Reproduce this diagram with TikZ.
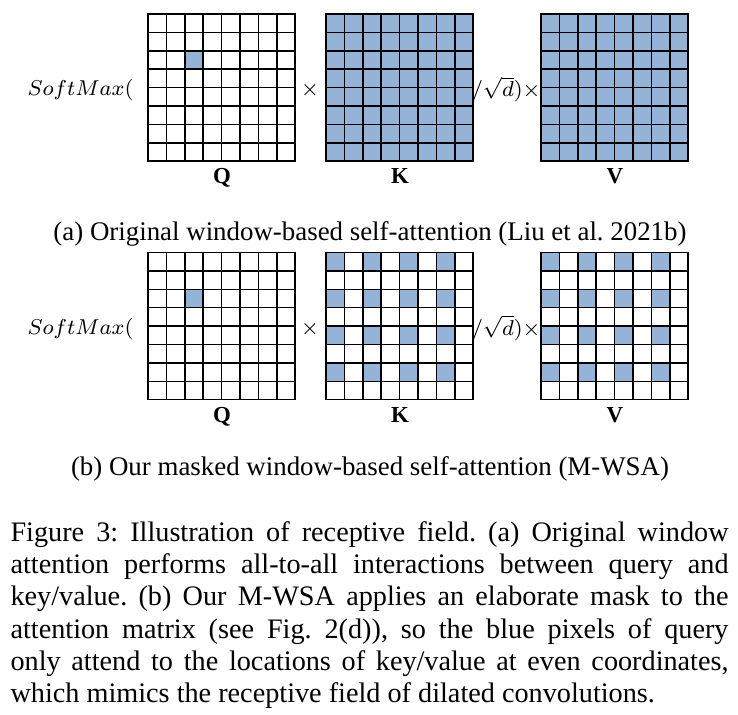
\documentclass[tikz,border=0pt]{standalone}
\usepackage{fontspec}
\setmainfont{Liberation Serif}
\usetikzlibrary{positioning}
\definecolor{cellblue}{RGB}{149,179,215}
\frenchspacing

\tikzset{
  gridline/.style={line width=0.55pt,black,line cap=rect},
  bluecell/.style={fill=cellblue},
  matlabel/.style={font=\fontsize{8.5}{10}\selectfont\bfseries,anchor=base},
  optext/.style={font=\fontsize{8}{10}\selectfont,anchor=base},
  subcap/.style={font=\fontsize{10}{12}\selectfont,anchor=base},
}

% 8x8 grid of lines, origin = top left corner (px)
\newcommand{\cellgrid}[2]{%
  \foreach \k in {0,...,8}{
    \draw[gridline] ({#1+\k*18.4},#2) -- ({#1+\k*18.4},{#2+147.2});
    \draw[gridline] (#1,{#2+\k*18.4}) -- ({#1+147.2},{#2+\k*18.4});
  }}

\begin{document}
\begin{tikzpicture}[x=0.372pt,y=-0.372pt]
 \useasboundingbox (0,0) rectangle (738,715);

 % (a) original window attention
 \fill[bluecell] (184.8,50.8) rectangle ++(18.4,18.4);
 \fill[bluecell] (326,14) rectangle ++(147.2,147.2);
 \fill[bluecell] (541,14) rectangle ++(147.2,147.2);
 \cellgrid{148}{14}
 \cellgrid{326}{14}
 \cellgrid{541}{14}

 \node[optext,anchor=base east] (smA) at (143,96) {$SoftMax($};
 \node[optext] (mulA) at (310,96) {$\times$};
 \node[optext] (divA) at (506,97) {$/\sqrt{d})\times$};
 \node[matlabel] (qA) at (222,184) {Q};
 \node[matlabel] (kA) at (400,184) {K};
 \node[matlabel] (vA) at (615,184) {V};
 \node[subcap] (capA) at (370,241) {(a) Original window-based self-attention (Liu et al. 2021b)};

 % (b) masked window attention
 \fill[bluecell] (184.8,289.3) rectangle ++(18.4,18.4);
 \foreach \i in {0,2,4,6}{
  \foreach \j in {0,2,4,6}{
   \fill[bluecell] ({326+\i*18.4},{252.5+\j*18.4}) rectangle ++(18.4,18.4);
   \fill[bluecell] ({541+\i*18.4},{252.5+\j*18.4}) rectangle ++(18.4,18.4);
  }}
 \cellgrid{148}{252.5}
 \cellgrid{326}{252.5}
 \cellgrid{541}{252.5}

 \node[optext,anchor=base east] (smB) at (143,334.5) {$SoftMax($};
 \node[optext] (mulB) at (310,334.5) {$\times$};
 \node[optext] (divB) at (506,335.5) {$/\sqrt{d})\times$};
 \node[matlabel] (qB) at (222,422.5) {Q};
 \node[matlabel] (kB) at (400,422.5) {K};
 \node[matlabel] (vB) at (615,422.5) {V};
 \node[subcap] (capB) at (370,476) {(b) Our masked window-based self-attention (M-WSA)};

 % figure caption
 \node[anchor=north west,inner sep=0pt,text width=267.1pt,align=justify,
       font=\fontsize{10.5}{12}\selectfont] (figcap) at (10,521)
  {Figure 3: Illustration of receptive field. (a) Original window\linebreak
   attention performs all-to-all interactions between query and\linebreak
   key/value. (b) Our M-WSA applies an elaborate mask to the\linebreak
   attention matrix (see Fig.~2(d)), so the blue pixels of query\linebreak
   only attend to the locations of key/value at even coordinates,\linebreak
   which mimics the receptive field of dilated convolutions.};
\end{tikzpicture}
\end{document}
